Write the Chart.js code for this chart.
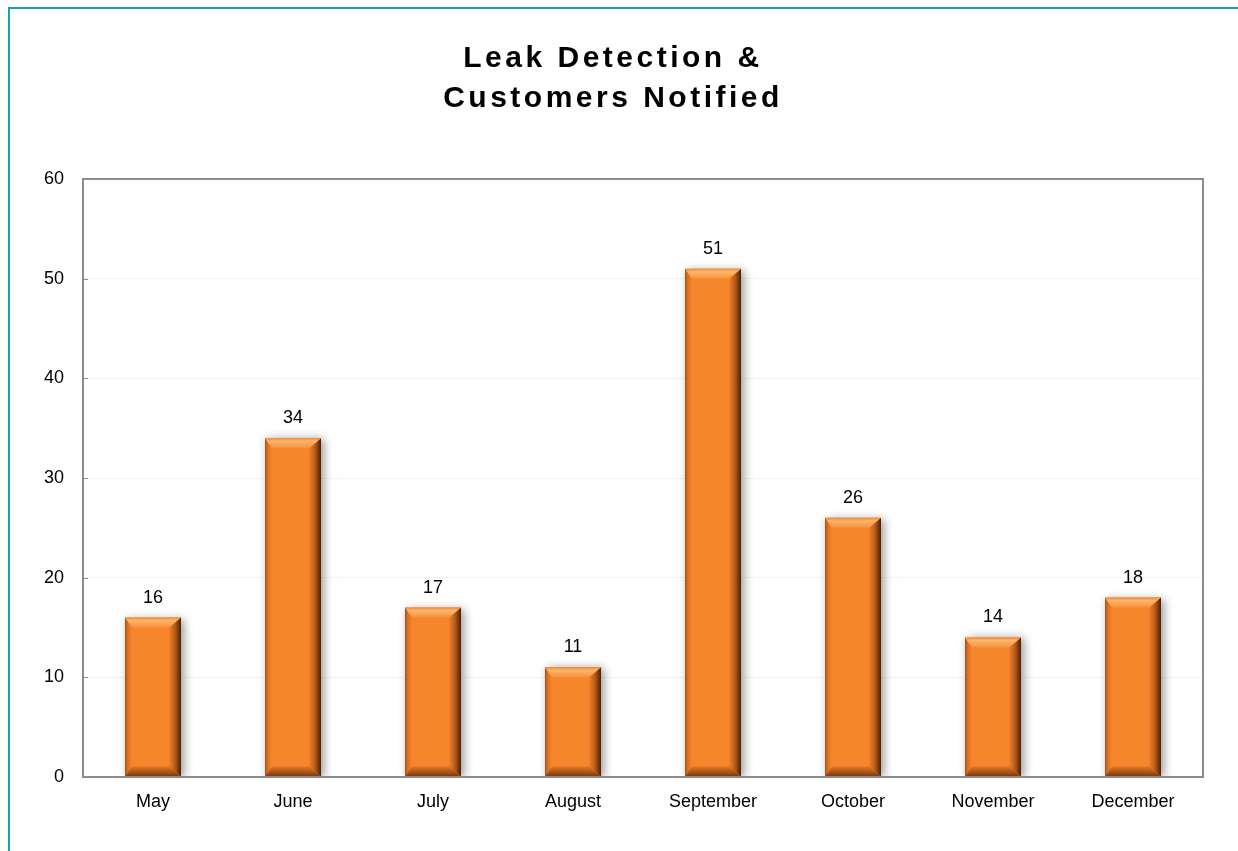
<!DOCTYPE html>
<html>
<head>
<meta charset="utf-8">
<script src="https://cdn.jsdelivr.net/npm/chart.js@4"></script>
<style>
	body { margin: 0; background: #fff; }
	#wrap { position: relative; width: 1238px; height: 851px; overflow: hidden; }
	#frame { position: absolute; left: 8px; top: 7px; width: 2000px; height: 2000px;
		border-top: 2px solid #17a2b5; border-left: 2px solid #17a2b5; }
	#title { position: absolute; left: 0; top: 37px; width: 1226px; text-align: center;
		font-family: "Liberation Sans", Arial, sans-serif; font-weight: bold; font-size: 30px;
		line-height: 40px; letter-spacing: 3.5px; color: #000; }
	canvas { position: absolute; left: 0; top: 0; }
</style>
</head>
<body>
<div id="wrap">
	<div id="frame"></div>
	<canvas id="chart1" width="1238" height="851"></canvas>
	<div id="title">Leak Detection &amp;<br>Customers Notified</div>
</div>
<script>
//data
var months = ["May", "June", "July", "August", "September", "October", "November", "December"];
var customersNotified = [16, 34, 17, 11, 51, 26, 14, 18];
var yTicks = [0, 10, 20, 30, 40, 50, 60];

var fontName = "'Liberation Sans', Arial, sans-serif";

//border round the plot area + small inward ticks on y axis
var plotBorder = {
	id: "plotBorder",
	afterDraw: function(chart) {
		var ctx = chart.ctx;
		var a = chart.chartArea;
		var yScale = chart.scales.y;
		ctx.save();
		ctx.strokeStyle = "#8c8c8c";
		ctx.lineWidth = 2;
		ctx.strokeRect(a.left, a.top, a.right - a.left, a.bottom - a.top);
		ctx.lineWidth = 1;
		for (var i = 0; i < yTicks.length; i++) {
			var py = Math.round(yScale.getPixelForValue(yTicks[i])) + 0.5;
			ctx.beginPath();
			ctx.moveTo(a.left, py);
			ctx.lineTo(a.left + 5, py);
			ctx.stroke();
		}
		ctx.restore();
	}
};

//shadow behind the bars
var barShadow = {
	id: "barShadow",
	beforeDatasetDraw: function(chart) {
		var ctx = chart.ctx;
		ctx.save();
		ctx.shadowColor = "rgba(0,0,0,0.4)";
		ctx.shadowBlur = 9;
		ctx.shadowOffsetX = 3;
		ctx.shadowOffsetY = 1;
	},
	afterDatasetDraw: function(chart) {
		chart.ctx.restore();
	}
};

//draws one bevel piece as a 4 point shape
function piece(ctx, fill, pts) {
	ctx.fillStyle = fill;
	ctx.beginPath();
	ctx.moveTo(pts[0], pts[1]);
	ctx.lineTo(pts[2], pts[3]);
	ctx.lineTo(pts[4], pts[5]);
	ctx.lineTo(pts[6], pts[7]);
	ctx.closePath();
	ctx.fill();
}

//bevel edges on each bar and the value labels
var bevel = {
	id: "bevel",
	afterDatasetsDraw: function(chart) {
		var ctx = chart.ctx;
		var bars = chart.getDatasetMeta(0).data;
		ctx.save();
		for (var i = 0; i < bars.length; i++) {
			var bar = bars[i];
			var l = bar.x - bar.width / 2;
			var r = bar.x + bar.width / 2;
			var t = bar.y;
			var b = bar.base;
			var bt = 10; //top and bottom depth
			var bl = 7;  //left depth
			var br = 12; //right depth

			//left
			var g = ctx.createLinearGradient(l, 0, l + bl, 0);
			g.addColorStop(0, "#a84d14");
			g.addColorStop(0.35, "#d96e22");
			g.addColorStop(1, "#f6862c");
			piece(ctx, g, [l, t, l + bl, t + bt, l + bl, b - bt, l, b]);

			//right
			g = ctx.createLinearGradient(r - br, 0, r, 0);
			g.addColorStop(0, "#f0822b");
			g.addColorStop(0.5, "#b85a1a");
			g.addColorStop(1, "#4a2006");
			piece(ctx, g, [r, t, r - br, t + bt, r - br, b - bt, r, b]);

			//top
			g = ctx.createLinearGradient(0, t, 0, t + bt);
			g.addColorStop(0, "#ef8a38");
			g.addColorStop(0.3, "#fcb66c");
			g.addColorStop(1, "#f8913c");
			piece(ctx, g, [l, t, r, t, r - br, t + bt, l + bl, t + bt]);

			//bottom
			g = ctx.createLinearGradient(0, b - bt, 0, b);
			g.addColorStop(0, "#e07828");
			g.addColorStop(1, "#7a380c");
			piece(ctx, g, [l, b, r, b, r - br, b - bt, l + bl, b - bt]);

			//value label
			ctx.fillStyle = "#000";
			ctx.font = "18px " + fontName;
			ctx.textAlign = "center";
			ctx.textBaseline = "alphabetic";
			ctx.fillText(String(customersNotified[i]), bar.x, t - 15);
		}
		ctx.restore();
	}
};

var ctx = document.getElementById("chart1");

var chart = new Chart(ctx, {
	type: "bar",
	data: {
		labels: months,
		datasets: [
			{
				label: "Customers Notified",
				data: customersNotified,
				backgroundColor: "#f6862c",
				borderWidth: 0,
				barPercentage: 0.4,
				categoryPercentage: 1.0
			}
		]
	},
	options: {
		responsive: false,
		animation: false,
		layout: { padding: { top: 179, right: 35, bottom: 0, left: 0 } },
		plugins: {
			legend: { display: false },
			title: { display: false },
			tooltip: { enabled: false }
		},
		scales: {
			x: {
				grid: { display: false, drawTicks: false },
				border: { display: false },
				ticks: {
					color: "#000",
					padding: 14,
					maxRotation: 0,
					font: { family: fontName, size: 18 }
				},
				afterFit: function(scale) { scale.height = 74; }
			},
			y: {
				min: 0,
				max: 60,
				grid: { color: "#f3f3f3", drawTicks: false },
				border: { display: false },
				afterBuildTicks: function(scale) {
					scale.ticks = yTicks.map(function(v) { return { value: v }; });
				},
				ticks: {
					color: "#000",
					padding: 19,
					font: { family: fontName, size: 18 }
				},
				afterFit: function(scale) { scale.width = 83; }
			}
		}
	},
	plugins: [barShadow, bevel, plotBorder]
});
</script>
</body>
</html>
